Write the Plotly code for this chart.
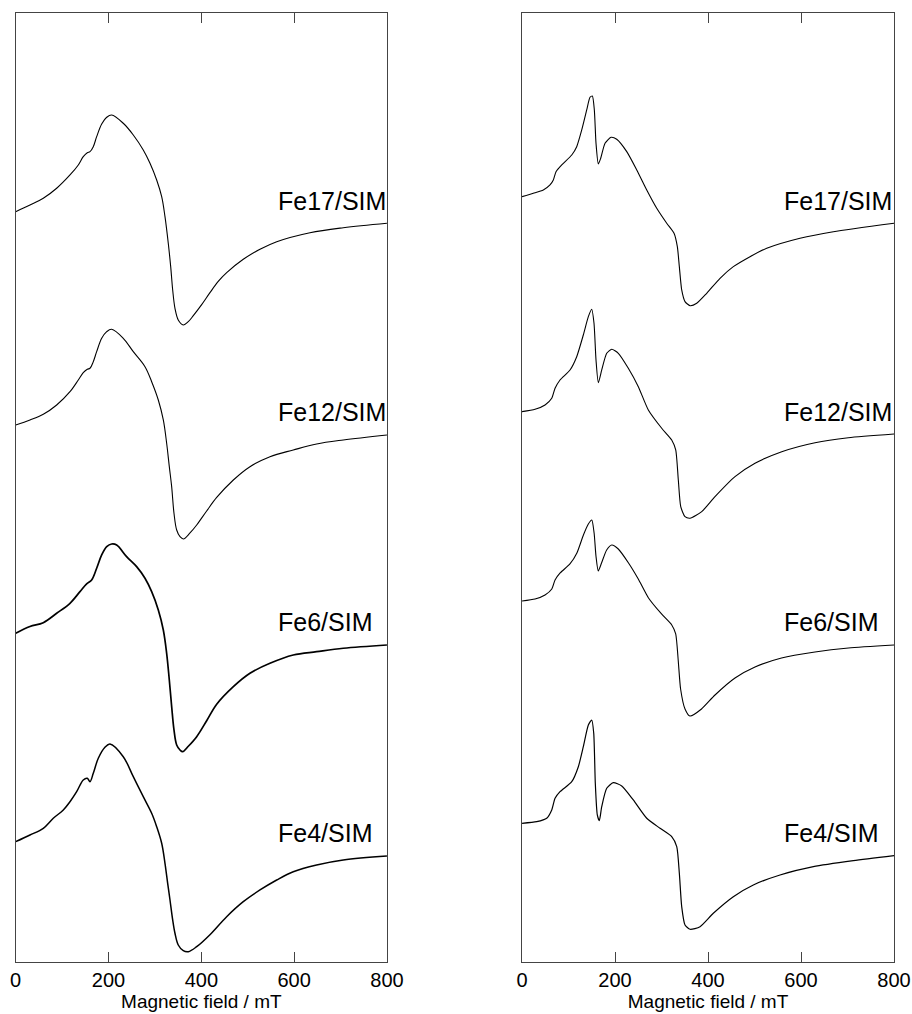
import plotly.graph_objects as go

# ---------------- data (field in mT, signal in arbitrary units, relative to each baseline) ----------
labels = ["Fe17/SIM", "Fe12/SIM", "Fe6/SIM", "Fe4/SIM"]

# Left panel (experimental spectra)
L17_x = [0, 30.8, 59.5, 88.3, 117, 134.9, 145.6, 154.3, 160.1, 167.2, 174.5, 185.3, 196.1, 206.8,
         231.8, 253.4, 274.9, 289.4, 303.8, 314.6, 321.7, 328.8, 334, 338.3, 343.2, 350.3, 361.1,
         371.9, 382.7, 400.7, 418.6, 436, 454.6, 490.4, 526.4, 562.4, 634.1, 705.9, 800]
L17_y = [0, 6.7, 13.4, 23.4, 36.7, 46.7, 55, 59, 60, 65, 75, 87.7, 94.4, 96.7,
         88.4, 76.7, 61.7, 48.4, 31.7, 15, -5, -31.6, -55, -78.3, -96.6, -108.3, -113.3,
         -110, -104, -93, -81, -70, -61, -47.6, -37.6, -30, -21, -16, -11.6]

L12_x = [0, 30.8, 59.5, 88.3, 117, 134.9, 145.6, 154.3, 160.1, 167.2, 174.5, 185.3, 196.1, 206.8,
         231.8, 253.4, 278.6, 293, 307.3, 318.1, 325.3, 331, 336.1, 341.1, 346.9, 354.1, 361.3,
         375.6, 390, 411.5, 433.1, 469, 504.8, 547.9, 598.1, 648.4, 705.9, 800]
L12_y = [0, 5, 10.7, 20, 33.3, 45, 52.3, 55.7, 56.7, 63.3, 73.3, 86.7, 93.3, 95.7,
         86.7, 73.3, 58.3, 43.3, 25, 5, -18.3, -41.7, -61.7, -88.3, -105, -111.7, -114,
         -108, -100, -86, -72.5, -55, -41.7, -31.7, -25, -19, -15, -10]

L6_x = [0, 30.8, 59.5, 88.3, 117, 138.5, 152.9, 163.7, 174.5, 185.3, 196.1, 206.8, 217.6,
        239, 260.6, 278.6, 293, 307.3, 318.1, 325.3, 331, 336.1, 341.1, 346.9, 354.1, 359.8,
        372, 390, 411.5, 433.1, 469, 504.8, 547.9, 598.1, 648.4, 705.9, 800]
L6_y = [0, 6.7, 10.6, 20, 30, 41.6, 49.3, 53.3, 65, 78.3, 86.6, 89.3, 88.3,
        76.6, 66.6, 55, 41.6, 23.3, 3.3, -20, -46.7, -73.4, -96.7, -111.7, -116.7, -118.4,
        -113, -103.4, -87.5, -71, -53.4, -40, -30, -21.7, -18.4, -15, -11.7]

L4_x = [0, 30.8, 59.5, 81, 102.6, 117, 131.4, 145.6, 154.3, 160.1, 167.2, 178, 192.3, 203.2,
        231.8, 253.4, 274.9, 293, 303.8, 314.6, 321.7, 327.5, 332.5, 338.3, 343.2, 350.3, 361.1, 371.9,
        390, 418.6, 454.6, 490.4, 526.4, 562.4, 598.1, 648.4, 705.9, 800]
L4_y = [0, 6.7, 13.4, 23.4, 31.7, 40, 50, 61.7, 63.4, 60, 68.4, 83.4, 94.4, 97.7,
        85, 65, 45, 28.4, 15, -1.6, -21.6, -41.6, -58.3, -78.3, -91.6, -103.3, -109, -110,
        -105, -93, -75, -60, -48.3, -38.3, -30, -23.3, -18.3, -14.3]

# Right panel (simulated spectra)
R17_x = [0, 24.3, 45.8, 60.2, 67.3, 73.1, 85.4, 106.9, 117.6, 128.4, 139.1, 146.2, 151.2, 155.5, 159.1,
         164.1, 169.2, 178.5, 191.4, 203.6, 225.2, 246.7, 268.2, 289.7, 311.2, 326.9, 334, 338.3,
         343.4, 350.5, 361.3, 375.7, 397.2, 425.8, 454.4, 490.3, 526.2, 597.8, 669.5, 800]
R17_y = [0, 3.4, 6.7, 11.7, 16.7, 25, 31.7, 41.7, 50, 66.7, 86.7, 99.4, 100.7, 86.7, 53.4,
         32.7, 38.4, 53.4, 59.4, 57.4, 45, 26.7, 6.7, -11.6, -26.6, -36.6, -50, -70,
         -93.3, -105, -109, -106.6, -96.6, -81.6, -70, -60, -51.6, -41.6, -35, -26.6]

R12_x = [0, 28, 49.5, 63.9, 71, 81.7, 103.2, 117.6, 131.8, 142.6, 149.9, 154.8, 159.1, 164.1,
         171.4, 182.1, 192.9, 207.1, 228.6, 250.1, 271.6, 300.4, 321.9, 330.5, 336.1, 341.3, 350.5,
         361.3, 386.4, 415, 458, 501, 558.5, 630.1, 701.7, 800]
R12_y = [0, 2.4, 6.7, 13.4, 23.4, 31.7, 41.7, 55, 76.7, 95, 102.4, 88.4, 51.7, 29,
         41.7, 58.4, 62.4, 58.4, 43.4, 25, 1.7, -16.6, -28.3, -38.3, -68.3, -95, -105,
         -106.6, -100, -85, -65, -51.6, -40, -31, -26, -22.3]

R6_x = [0, 28, 49.5, 64, 71, 82, 103, 118, 132, 142.6, 150, 155, 159, 164,
        171, 182, 193, 207, 229, 250, 272, 300, 322, 330.5, 336, 341, 350.5,
        361, 386, 415, 458, 501, 558, 630, 702, 800]
R6_y = [0, 2, 6, 12, 21, 28, 37, 48, 66, 77, 81, 68, 45, 30,
        38, 51, 56, 52, 38, 22, 3, -13, -24, -33, -60, -88, -108,
        -115, -108, -94, -77, -66, -57, -51, -47, -44]

R4_x = [0, 31.6, 53.1, 63.9, 71, 81.7, 106.9, 121.1, 131.8, 142.6, 149.9, 154.2, 157.6, 161.9, 166.2,
        171.4, 182.1, 196.3, 214.4, 239.3, 268.2, 296.8, 321.9, 332.7, 338.3, 343.4, 350.5, 361.3,
        382.8, 411.4, 454.4, 497.4, 554.8, 626.5, 712.5, 800]
R4_y = [0, 1.6, 5, 13.3, 25, 31.6, 41.6, 56.6, 76.6, 98.3, 103.3, 90, 40, 8.3, 2.6,
        16.6, 35, 40.6, 37.3, 23.3, 5, -5, -13.4, -23.4, -50, -83.4, -101.7, -106,
        -103.4, -90, -73.4, -61.7, -51.7, -43.4, -37.4, -32.4]

# vertical stacking offsets (arbitrary units)
left_offsets = [750.3, 537, 328.7, 120.3]
right_offsets = [765.3, 550.3, 361, 138.7]

x_ticks = [0, 200, 400, 600, 800]

left_series = [(L17_x, L17_y), (L12_x, L12_y), (L6_x, L6_y), (L4_x, L4_y)]
right_series = [(R17_x, R17_y), (R12_x, R12_y), (R6_x, R6_y), (R4_x, R4_y)]
left_widths = [1.1, 1.1, 1.7, 1.5]
right_widths = [1.1, 1.1, 1.1, 1.2]

# ---------------- figure ----------------
fig = go.Figure()
for (xs, ys), off, w in zip(left_series, left_offsets, left_widths):
    fig.add_trace(go.Scatter(x=xs, y=[v + off for v in ys], mode="lines",
                             line=dict(color="black", width=w, shape="spline", smoothing=1.0),
                             xaxis="x", yaxis="y", showlegend=False, hoverinfo="skip"))
for (xs, ys), off, w in zip(right_series, right_offsets, right_widths):
    fig.add_trace(go.Scatter(x=xs, y=[v + off for v in ys], mode="lines",
                             line=dict(color="black", width=w, shape="spline", smoothing=0.6),
                             xaxis="x2", yaxis="y2", showlegend=False, hoverinfo="skip"))

label_y = [761, 550, 340, 129]
for lab, ly in zip(labels, label_y):
    for xr, yr in (("x", "y"), ("x2", "y2")):
        fig.add_annotation(x=560, y=ly, xref=xr, yref=yr, text=lab, showarrow=False,
                           xanchor="left", yanchor="middle",
                           font=dict(family="Liberation Sans, Arial, sans-serif", size=25, color="black"))

tick_font = dict(family="Liberation Sans, Arial, sans-serif", size=20, color="black")
title_font = dict(family="Liberation Sans, Arial, sans-serif", size=19, color="black")
xcommon = dict(range=[0, 800], tickvals=x_ticks, ticks="inside", ticklen=10, tickwidth=1.2,
               tickcolor="#444", showline=True, linecolor="#444", linewidth=1.2, mirror="ticks",
               showgrid=False, zeroline=False, tickfont=tick_font, automargin=False,
               title=dict(text="Magnetic field / mT", font=title_font, standoff=2))
ycommon = dict(range=[0, 949.3], showticklabels=False, ticks="", showline=True, linecolor="#444",
               linewidth=1.2, mirror=True, showgrid=False, zeroline=False, automargin=False,
               domain=[0.0513, 0.9875])

fig.update_layout(
    width=912, height=1014,
    margin=dict(l=0, r=0, t=0, b=0),
    paper_bgcolor="white", plot_bgcolor="white",
    xaxis=dict(domain=[0.0172, 0.4243], anchor="y", **xcommon),
    yaxis=dict(anchor="x", **ycommon),
    xaxis2=dict(domain=[0.5724, 0.9803], anchor="y2", **xcommon),
    yaxis2=dict(anchor="x2", **ycommon),
)

fig.write_html("out.html")
